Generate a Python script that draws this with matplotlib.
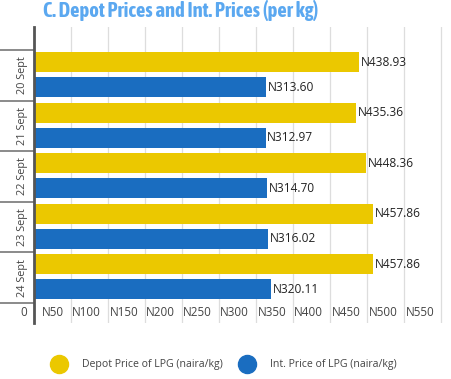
import matplotlib
matplotlib.use("Agg")
import matplotlib.pyplot as plt
from matplotlib.lines import Line2D

categories = ["20 Sept", "21 Sept", "22 Sept", "23 Sept", "24 Sept"]
depot_price = [438.93, 435.36, 448.36, 457.86, 457.86]
int_price = [313.60, 312.97, 314.70, 316.02, 320.11]
xticks = [0, 50, 100, 150, 200, 250, 300, 350, 400, 450, 500, 550]
xtick_labels = ["0"] + ["N%d" % v for v in xticks[1:]]
series_names = ["Depot Price of LPG (naira/kg)", "Int. Price of LPG (naira/kg)"]

YELLOW = "#EBC800"
BLUE = "#1A6DC0"
TITLE = "#5BA8F0"
TXT = "#444444"
W, H = 452, 379

fig = plt.figure(figsize=(W / 100, H / 100), dpi=100)
ax_l, ax_r, ax_t, ax_b = 34, 447, 27, 323
ax = fig.add_axes([ax_l / W, 1 - ax_b / H, (ax_r - ax_l) / W, (ax_b - ax_t) / H])

n = len(categories)
band_px = 50.5
top_pad = (50 - ax_t) / band_px
bot_pad = (ax_b - 303) / band_px
ax.set_ylim(n + bot_pad, -top_pad)
xmax = (ax_r - ax_l) / 0.7405
ax.set_xlim(0, xmax)

bh = 20 / band_px
yc_dep = [i + 12 / band_px for i in range(n)]
yc_int = [i + 37 / band_px for i in range(n)]
ax.barh(yc_dep, depot_price, height=bh, color=YELLOW, zorder=3)
ax.barh(yc_int, int_price, height=bh, color=BLUE, zorder=3)

for y, v in zip(yc_dep, depot_price):
    ax.annotate("N%.2f" % v, (v, y), xytext=(1, 0), textcoords="offset points",
                va="center", ha="left", fontsize=8.6, color="#222222", family="Open Sans", zorder=4)
for y, v in zip(yc_int, int_price):
    ax.annotate("N%.2f" % v, (v, y), xytext=(1, 0), textcoords="offset points",
                va="center", ha="left", fontsize=8.6, color="#222222", family="Open Sans", zorder=4)

# gridlines
for v in xticks[1:]:
    ax.axvline(v, color="#DDDDDD", lw=0.9, zorder=1)

# x tick labels inside the lower band
ylab = n + bot_pad / 2
for v, lab in zip(xticks, xtick_labels):
    ax.annotate(lab, (v, ylab), xytext=(-5, 0), textcoords="offset points",
                ha="right", va="center", fontsize=8.4, color=TXT, family="Open Sans",
                annotation_clip=False)

# category ticks and labels
ax.set_yticks(range(n + 1))
ax.set_yticklabels([])
ax.tick_params(axis="y", length=29, color="#777777", width=1.2, direction="out")
ax.set_xticks([])
for i, c in enumerate(categories):
    ax.annotate(c, (0, i + 0.5), xytext=(-12 * 72 / 100, 0), textcoords="offset points",
                rotation=90, ha="center", va="center", fontsize=7.8, color=TXT,
                family="Open Sans", annotation_clip=False)

for s in ["top", "right", "bottom"]:
    ax.spines[s].set_visible(False)
ax.spines["left"].set_color("#555555")
ax.spines["left"].set_linewidth(2)
ax.spines["left"].set_zorder(5)

fig.text(43 / W, 1 - 17 / H, "C. Depot Prices and Int. Prices (per kg)",
         fontsize=14.8, fontweight=700, color=TITLE,
         family=["Asap Condensed", "DejaVu Sans"], ha="left", va="baseline")

# legend
ly = 1 - 364 / H
fig.add_artist(Line2D([59 / W], [ly], marker="o", markersize=13, color=YELLOW, transform=fig.transFigure))
fig.text(82 / W, ly, series_names[0], fontsize=7.6, color=TXT, family="Open Sans", va="center")
fig.add_artist(Line2D([247 / W], [ly], marker="o", markersize=13, color=BLUE, transform=fig.transFigure))
fig.text(270 / W, ly, series_names[1], fontsize=7.6, color=TXT, family="Open Sans", va="center")

fig.savefig("out.png", dpi=100)
